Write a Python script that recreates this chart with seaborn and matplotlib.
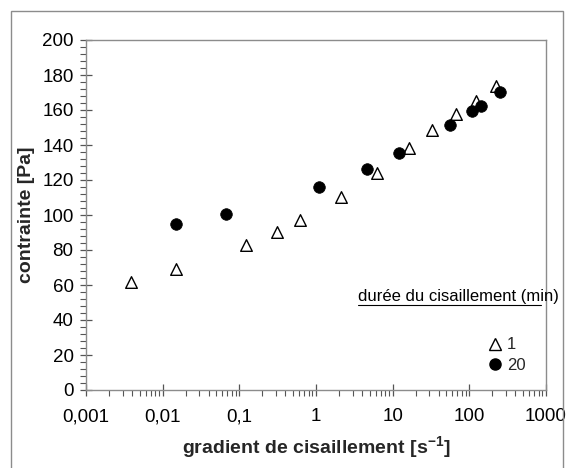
import matplotlib
matplotlib.use("Agg")
import matplotlib.pyplot as plt
from matplotlib.ticker import FixedLocator, MultipleLocator, LogLocator, NullFormatter, FixedFormatter
from matplotlib.patches import Rectangle
from matplotlib.lines import Line2D
import pandas as pd
import seaborn as sns

# Flow curve data: shear rate [1/s] vs shear stress [Pa]
grad_1min = [0.0039, 0.0151, 0.122, 0.31, 0.62, 2.14, 6.27, 16.1, 33.0, 67.6, 124, 223]
stress_1min = [62, 69, 83, 90.5, 97, 110.5, 124, 138.5, 148.5, 157.5, 165, 173.5]
grad_20min = [0.0148, 0.0676, 1.10, 4.68, 12.0, 55.6, 108, 142, 252]
stress_20min = [95, 100.5, 116, 126.5, 135.5, 151.5, 159.5, 162.5, 170.5]

durations = ["1", "20"]
x_ticks = [0.001, 0.01, 0.1, 1, 10, 100, 1000]
x_tick_labels = ["0,001", "0,01", "0,1", "1", "10", "100", "1000"]
y_ticks = list(range(0, 201, 20))

sns.set_theme(style="white")
plt.rcParams["font.family"] = ["Liberation Sans", "DejaVu Sans"]
plt.rcParams["mathtext.fontset"] = "custom"
plt.rcParams["mathtext.bf"] = "Liberation Sans:bold"
plt.rcParams["mathtext.rm"] = "Liberation Sans"
plt.rcParams["axes.unicode_minus"] = False

df1 = pd.DataFrame({"gradient": grad_1min, "contrainte": stress_1min})
df20 = pd.DataFrame({"gradient": grad_20min, "contrainte": stress_20min})

W, H = 566, 468
fig = plt.figure(figsize=(W / 100, H / 100), dpi=100)
fig.patch.set_facecolor("white")

# outer chart frame
fig.patches.append(Rectangle((11 / W, -0.05), (563 - 11) / W, 1.05 - 11 / H,
                             transform=fig.transFigure, fill=False,
                             edgecolor="#8c8c8c", linewidth=1.0))

ax = fig.add_axes([86 / W, 1 - 390 / H, (546 - 86) / W, (390 - 40) / H])
ax.set_xscale("log")

sns.scatterplot(data=df1, x="gradient", y="contrainte", ax=ax, marker="^",
                s=70, facecolor="white", edgecolor="black", linewidth=1.0,
                zorder=3, legend=False)
sns.scatterplot(data=df20, x="gradient", y="contrainte", ax=ax, marker="o",
                s=70, color="black", edgecolor="black", linewidth=0.5,
                zorder=4, legend=False)

ax.set_xlim(0.001, 1000)
ax.set_ylim(0, 200)

ax.xaxis.set_major_locator(FixedLocator(x_ticks))
ax.xaxis.set_major_formatter(FixedFormatter(x_tick_labels))
ax.xaxis.set_minor_locator(LogLocator(base=10, subs=range(2, 10), numticks=20))
ax.xaxis.set_minor_formatter(NullFormatter())
ax.yaxis.set_major_locator(FixedLocator(y_ticks))
ax.yaxis.set_minor_locator(MultipleLocator(4))

for sp in ax.spines.values():
    sp.set_color("#8c8c8c")
    sp.set_linewidth(1.0)

ax.tick_params(axis="x", which="both", bottom=True, top=False)
ax.tick_params(axis="y", which="both", left=True, right=False)
ax.tick_params(axis="both", which="major", direction="inout", length=8,
               width=0.9, color="#555555", labelsize=13.5, labelcolor="black")
ax.tick_params(axis="both", which="minor", direction="out", length=4,
               width=0.8, color="#555555")
ax.tick_params(axis="y", which="major", pad=5)
ax.tick_params(axis="x", which="major", pad=9)

ax.set_xlabel(r"gradient de cisaillement [s$^{\mathbf{-1}}$]", fontsize=14,
              fontweight="bold", labelpad=7)
ax.set_ylabel("contrainte [Pa]", fontsize=14, fontweight="bold", labelpad=5)

# legend with underlined title
handles = [
    Line2D([], [], linestyle="none", marker="^", markersize=8,
           markerfacecolor="white", markeredgecolor="black", markeredgewidth=1.0),
    Line2D([], [], linestyle="none", marker="o", markersize=8,
           markerfacecolor="black", markeredgecolor="black"),
]
leg = ax.legend(handles, durations, loc="upper left",
                bbox_to_anchor=((477 - 86) / 460, (390 - 329) / 350),
                frameon=False, fontsize=12, handletextpad=0.1,
                labelspacing=0.35, handlelength=1.2, borderpad=0)

title_x = (358 - 86) / 460
title_y = (390 - 297) / 350
ax.text(title_x, title_y, "durée du cisaillement (min)", transform=ax.transAxes,
        fontsize=12, ha="left", va="center", color="black")
ax.add_line(Line2D([title_x, (541 - 86) / 460], [(390 - 305) / 350] * 2,
                   transform=ax.transAxes, color="black", linewidth=0.8,
                   clip_on=False))

fig.savefig("out.png", dpi=100, facecolor="white")
